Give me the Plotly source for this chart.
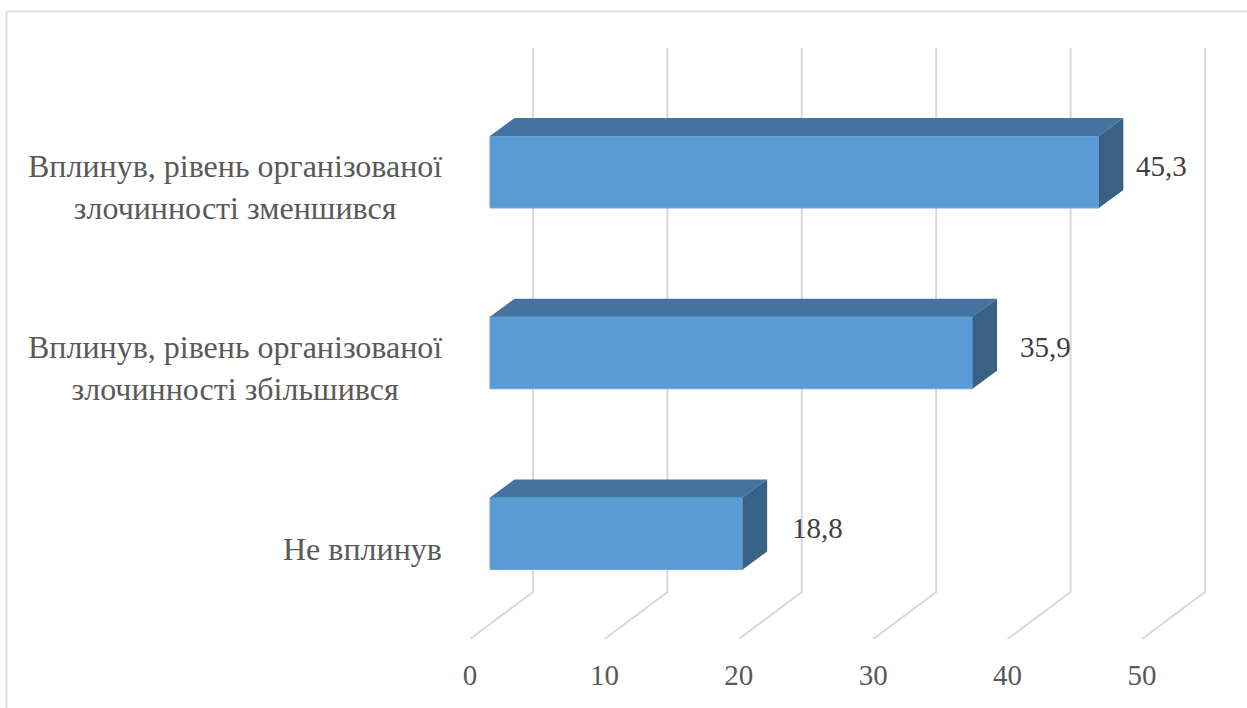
import plotly.graph_objects as go

categories = ["Не вплинув",
              "Вплинув, рівень організованої<br>злочинності збільшився",
              "Вплинув, рівень організованої<br>злочинності зменшився"]
values = [18.8, 35.9, 45.3]
tick_values = [0, 10, 20, 30, 40, 50]

# pseudo-3D geometry, in axis units
W, H = 1247, 708
L, R, T, B = 470, 37, 48, 69
PX_X = 13.44
PX_Y = 180.75
x_range = [0, (W - L - R) / PX_X]
y_low = (533.5 - (H - B)) / PX_Y
y_high = (533.5 - T) / PX_Y
bar_base = 20 / PX_X
bar_h = 72 / PX_Y
bar_dx = 24.5 / PX_X
bar_dy = 18 / PX_Y
wall_dx = 63 / PX_X
wall_dy = 47 / PX_Y
label_dx = [50 / PX_X, 48 / PX_X, 38 / PX_X]
label_dy = 6 / PX_Y
cat_dy = -15 / PX_Y

FONT = "Liberation Serif"
ys = list(range(len(values)))

# paper coordinates for things outside the plot area
fx = lambda px: (px - L) / (W - L - R)
fy = lambda py: 1 - (py - T) / (H - T - B)

fig = go.Figure()
fig.add_trace(go.Bar(x=values, y=ys, base=bar_base, orientation="h", width=bar_h,
                     marker=dict(color="#5B9BD5", line=dict(color="#6CA6DC", width=1)),
                     hoverinfo="skip", showlegend=False))

top_x, top_y, side_x, side_y = [], [], [], []
for y, v in zip(ys, values):
    x0, x1 = bar_base, bar_base + v
    yt, yb = y + bar_h / 2, y - bar_h / 2
    top_x += [x0, x1, x1 + bar_dx, x0 + bar_dx, x0, None]
    top_y += [yt, yt, yt + bar_dy, yt + bar_dy, yt, None]
    side_x += [x1, x1 + bar_dx, x1 + bar_dx, x1, x1, None]
    side_y += [yt, yt + bar_dy, yb + bar_dy, yb, yt, None]
fig.add_trace(go.Scatter(x=top_x, y=top_y, fill="toself", fillcolor="#44739F", mode="lines",
                         line=dict(width=0), hoverinfo="skip", showlegend=False))
fig.add_trace(go.Scatter(x=side_x, y=side_y, fill="toself", fillcolor="#386185", mode="lines",
                         line=dict(width=0), hoverinfo="skip", showlegend=False))

shapes = []
for t in tick_values:
    path = (f"M {t} {y_low} L {t + wall_dx} {y_low + wall_dy} L {t + wall_dx} {y_high}")
    shapes.append(dict(type="path", path=path, xref="x", yref="y", layer="below",
                       line=dict(color="#D9D9D9", width=2)))
# frame of the picture: left and top edges
shapes.append(dict(type="line", xref="paper", yref="paper", x0=fx(6.5), x1=fx(6.5),
                   y0=fy(708), y1=fy(11.5), line=dict(color="#DEDEDE", width=2)))
shapes.append(dict(type="line", xref="paper", yref="paper", x0=fx(6.5), x1=fx(1247),
                   y0=fy(11.5), y1=fy(11.5), line=dict(color="#DEDEDE", width=2)))

annotations = []
for y, v, c, dx in zip(ys, values, categories, label_dx):
    annotations.append(dict(x=bar_base + v + bar_dx + dx, y=y + label_dy, xref="x", yref="y",
                            text=f"{v:.1f}".replace(".", ","), showarrow=False,
                            xanchor="center", yanchor="middle",
                            font=dict(family=FONT, size=29, color="#404040")))
    annotations.append(dict(x=fx(444), y=(y + cat_dy - y_low) / (y_high - y_low),
                            xref="paper", yref="paper", text=c, showarrow=False,
                            xanchor="right", yanchor="middle", align="center",
                            font=dict(family=FONT, size=32, color="#595959")))

fig.update_layout(
    width=W, height=H, margin=dict(l=L, r=R, t=T, b=B, pad=0),
    paper_bgcolor="white", plot_bgcolor="white", showlegend=False,
    shapes=shapes, annotations=annotations,
    xaxis=dict(range=x_range, tickvals=tick_values, ticktext=[str(t) for t in tick_values],
               showgrid=False, zeroline=False, showline=False, ticks="",
               ticklabelstandoff=16, tickangle=0,
               tickfont=dict(family=FONT, size=29, color="#595959")),
    yaxis=dict(range=[y_low, y_high], visible=False),
)
fig.write_html("out.html", config=dict(displayModeBar=False),
               post_script="document.body.style.margin='0';document.body.style.overflow='hidden';")
